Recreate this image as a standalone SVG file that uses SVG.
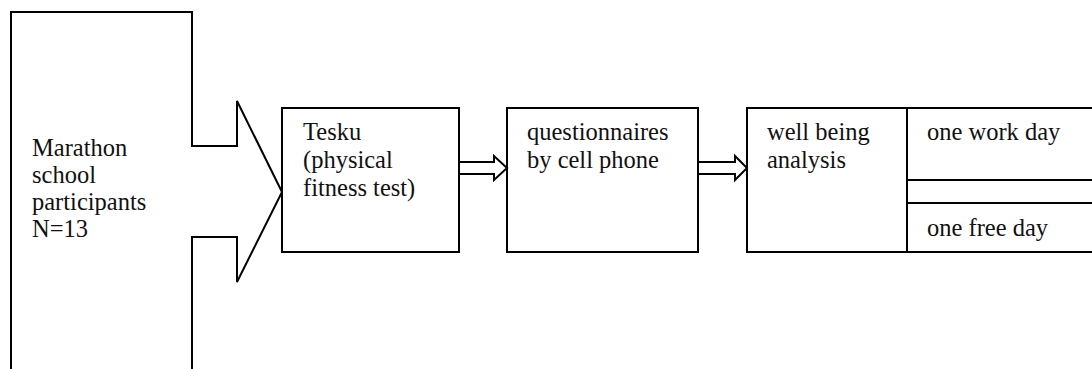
<svg xmlns="http://www.w3.org/2000/svg" width="1092" height="369" viewBox="0 0 1092 369">
  <style>
    .shape { fill: none; stroke: #000; stroke-width: 2; }
    .lbl { font-family: "Liberation Serif", "Times New Roman", serif; font-size: 24.5px; fill: #111; }
  </style>
  <rect width="1092" height="369" fill="#fff"/>

  <!-- source block with large notched arrow -->
  <g id="participants">
    <path class="shape" d="M11,369 V12 H192 V146 H237 V101 L282,192 L237,282 V237 H192 V369"/>
    <text class="lbl" x="32" y="156">Marathon</text>
    <text class="lbl" x="32" y="183">school</text>
    <text class="lbl" x="32" y="210">participants</text>
    <text class="lbl" x="32" y="237">N=13</text>
  </g>

  <g id="tesku">
    <rect class="shape" x="282" y="108" width="177" height="144"/>
    <text class="lbl" x="303" y="140">Tesku</text>
    <text class="lbl" x="303" y="168">(physical</text>
    <text class="lbl" x="303" y="196">fitness test)</text>
  </g>

  <g id="questionnaires">
    <rect class="shape" x="507" y="108" width="191" height="144"/>
    <text class="lbl" x="527" y="140">questionnaires</text>
    <text class="lbl" x="527" y="168">by cell phone</text>
  </g>

  <g id="wellbeing">
    <path class="shape" d="M1093,108 H747 V252 H1093"/>
    <line class="shape" x1="907" y1="108" x2="907" y2="252"/>
    <line class="shape" x1="907" y1="180" x2="1093" y2="180"/>
    <line class="shape" x1="907" y1="203" x2="1093" y2="203"/>
    <text class="lbl" x="767" y="140">well being</text>
    <text class="lbl" x="767" y="168">analysis</text>
    <text class="lbl" x="927" y="140">one work day</text>
    <text class="lbl" x="927" y="236">one free day</text>
  </g>

  <!-- hollow block arrows between steps -->
  <g id="connectors">
    <path class="shape" d="M459,162 H494 V156 L507,168 L494,180 V174 H459"/>
    <path class="shape" d="M698,162 H735 V156 L747,168 L735,180 V174 H698"/>
  </g>
</svg>
